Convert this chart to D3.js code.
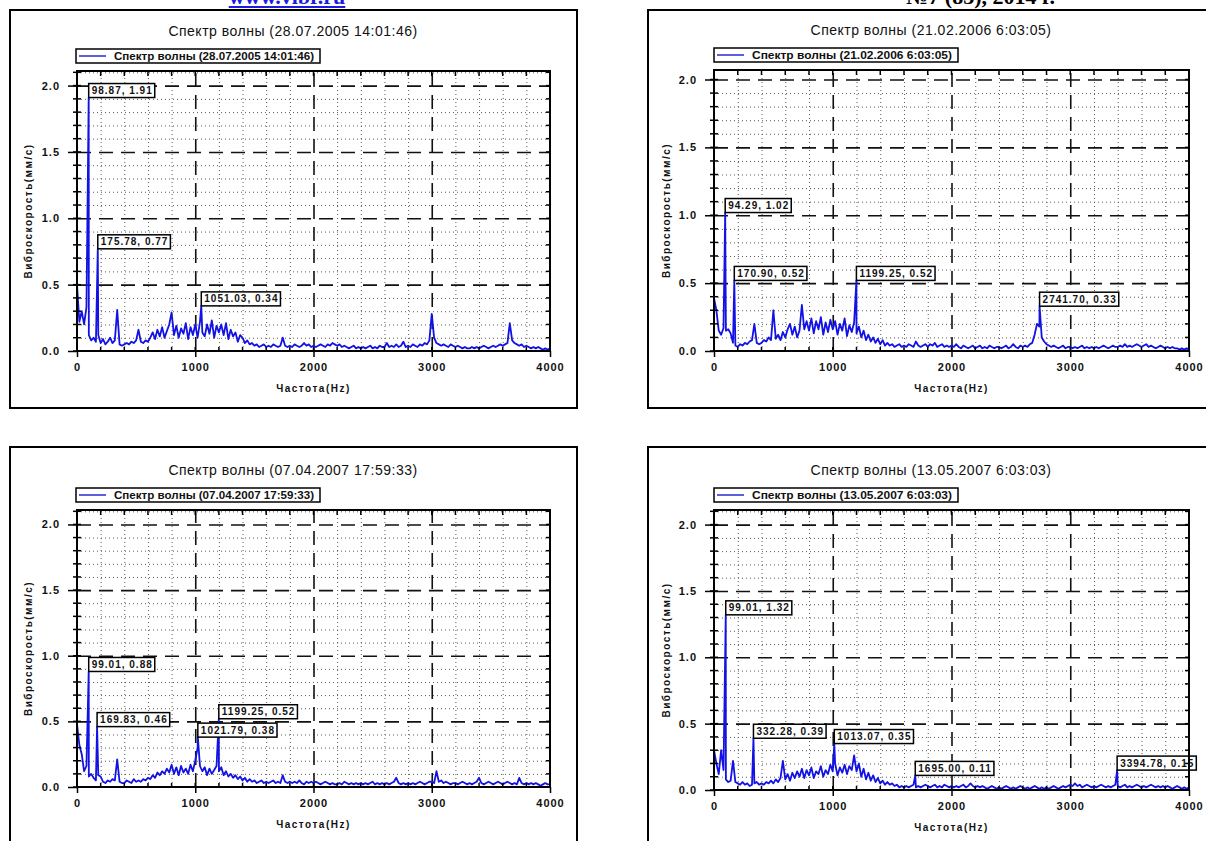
<!DOCTYPE html>
<html lang="ru">
<head>
<meta charset="utf-8">
<title>Спектр волны</title>
<script src="https://d3js.org/d3.v7.min.js"></script>
<style>
    body, html { margin: 0; padding: 0; background: #fff; overflow: hidden; }
    svg { display: block; }
    .chart text { font-family: "Liberation Sans", Arial, sans-serif; fill: #111; }
    .axis text { font-weight: bold; font-size: 11px; letter-spacing: 1px; }
    .axis line { stroke: #000; stroke-width: 1.5; }
    .axis .domain { display: none; }
    .grid .domain { display: none; }
    .grid-minor line { stroke: #5a5a5a; stroke-width: 1; stroke-dasharray: 1,3; }
    .grid-major line { stroke: #111; stroke-width: 1.6; stroke-dasharray: 14,8; }
    .peak text { font-weight: bold; font-size: 10px; letter-spacing: 1px; }
</style>
</head>
<body>
<svg id="page" width="1206" height="841"></svg>
<script>
// chart texts
var titles = [
    "Спектр волны (28.07.2005 14:01:46)",
    "Спектр волны (21.02.2006 6:03:05)",
    "Спектр волны (07.04.2007 17:59:33)",
    "Спектр волны (13.05.2007 6:03:03)"
];
var xLabel = "Частота(Hz)";
var yLabel = "Виброскорость(мм/с)";
var xTickLabels = ["0", "1000", "2000", "3000", "4000"];
var yTickLabels = ["0.0", "0.5", "1.0", "1.5", "2.0"];
var yMaxes = [2.11, 2.07, 2.11, 2.11];

// spectrum amplitudes, one value every 20 Hz from 0 to 4000 Hz
var freqStep = 20;
var spectrum1 = [
    0.50, 0.22, 0.30, 0.20, 0.33, 0.12, 0.08, 0.10, 0.07, 0.12,
    0.06, 0.09, 0.05, 0.07, 0.10, 0.06, 0.08, 0.31, 0.05, 0.04,
    0.05, 0.06, 0.05, 0.07, 0.06, 0.08, 0.16, 0.07, 0.06, 0.08,
    0.07, 0.10, 0.14, 0.09, 0.16, 0.11, 0.18, 0.10, 0.15, 0.20,
    0.29, 0.12, 0.19, 0.10, 0.17, 0.13, 0.21, 0.09, 0.18, 0.12,
    0.20, 0.10, 0.22, 0.14, 0.11, 0.20, 0.13, 0.23, 0.10, 0.19,
    0.14, 0.20, 0.12, 0.21, 0.09, 0.16, 0.11, 0.14, 0.07, 0.12,
    0.10, 0.06, 0.08, 0.05, 0.06, 0.04, 0.05, 0.03, 0.04, 0.05,
    0.03, 0.04, 0.03, 0.05, 0.04, 0.03, 0.04, 0.10, 0.04, 0.03,
    0.04, 0.03, 0.05, 0.04, 0.03, 0.04, 0.06, 0.04, 0.05, 0.03,
    0.04, 0.03, 0.04, 0.05, 0.04, 0.03, 0.05, 0.04, 0.06, 0.05,
    0.04, 0.05, 0.03, 0.04, 0.03, 0.02, 0.03, 0.04, 0.02, 0.03,
    0.02, 0.03, 0.02, 0.03, 0.04, 0.02, 0.03, 0.02, 0.04, 0.03,
    0.03, 0.06, 0.03, 0.04, 0.03, 0.05, 0.03, 0.04, 0.07, 0.03,
    0.04, 0.03, 0.05, 0.04, 0.03, 0.05, 0.04, 0.06, 0.05, 0.08,
    0.28, 0.10, 0.06, 0.05, 0.04, 0.05, 0.04, 0.03, 0.05, 0.04,
    0.03, 0.04, 0.03, 0.02, 0.03, 0.02, 0.02, 0.03, 0.02, 0.03,
    0.02, 0.03, 0.04, 0.03, 0.02, 0.03, 0.04, 0.03, 0.04, 0.05,
    0.04, 0.05, 0.06, 0.21, 0.08, 0.06, 0.05, 0.04, 0.05, 0.03,
    0.04, 0.03, 0.02, 0.03, 0.02, 0.03, 0.02, 0.01, 0.02, 0.01,
    0.02
];
var spectrum2 = [
    0.39, 0.30, 0.15, 0.12, 0.17, 0.15, 0.16, 0.13, 0.06, 0.04,
    0.03, 0.05, 0.04, 0.06, 0.05, 0.07, 0.08, 0.20, 0.06, 0.05,
    0.06, 0.08, 0.07, 0.10, 0.08, 0.30, 0.09, 0.12, 0.08, 0.14,
    0.10, 0.16, 0.20, 0.12, 0.18, 0.10, 0.15, 0.34, 0.16, 0.22,
    0.15, 0.24, 0.13, 0.22, 0.16, 0.25, 0.12, 0.21, 0.14, 0.23,
    0.16, 0.22, 0.12, 0.20, 0.15, 0.24, 0.11, 0.19, 0.14, 0.21,
    0.13, 0.18, 0.10, 0.15, 0.08, 0.12, 0.07, 0.10, 0.06, 0.09,
    0.05, 0.08, 0.04, 0.06, 0.04, 0.05, 0.03, 0.04, 0.05, 0.03,
    0.04, 0.03, 0.05, 0.04, 0.03, 0.07, 0.04, 0.03, 0.04, 0.05,
    0.03, 0.05, 0.04, 0.06, 0.03, 0.04, 0.05, 0.03, 0.04, 0.03,
    0.04, 0.03, 0.05, 0.03, 0.02, 0.04, 0.03, 0.02, 0.03, 0.04,
    0.02, 0.03, 0.04, 0.02, 0.03, 0.02, 0.04, 0.03, 0.02, 0.03,
    0.03, 0.02, 0.03, 0.04, 0.02, 0.03, 0.05, 0.03, 0.02, 0.04,
    0.03, 0.04, 0.03, 0.05, 0.06, 0.12, 0.20, 0.18, 0.10, 0.07,
    0.05, 0.04, 0.03, 0.04, 0.03, 0.02, 0.03, 0.04, 0.02, 0.03,
    0.03, 0.02, 0.03, 0.02, 0.03, 0.04, 0.02, 0.03, 0.02, 0.03,
    0.02, 0.03, 0.02, 0.03, 0.04, 0.03, 0.02, 0.03, 0.04, 0.03,
    0.03, 0.04, 0.03, 0.05, 0.03, 0.04, 0.03, 0.04, 0.05, 0.04,
    0.03, 0.04, 0.05, 0.03, 0.04, 0.03, 0.02, 0.03, 0.04, 0.03,
    0.02, 0.03, 0.02, 0.03, 0.02, 0.02, 0.01, 0.02, 0.01, 0.02,
    0.01
];
var spectrum3 = [
    0.48, 0.32, 0.25, 0.12, 0.16, 0.08, 0.10, 0.07, 0.05, 0.09,
    0.08, 0.04, 0.03, 0.05, 0.04, 0.06, 0.05, 0.21, 0.04, 0.03,
    0.03, 0.05, 0.04, 0.03, 0.06, 0.04, 0.05, 0.04, 0.06, 0.05,
    0.07, 0.06, 0.09, 0.07, 0.11, 0.09, 0.12, 0.10, 0.14, 0.11,
    0.17, 0.10, 0.15, 0.09, 0.16, 0.11, 0.14, 0.10, 0.17, 0.12,
    0.20, 0.30, 0.16, 0.12, 0.15, 0.09, 0.14, 0.10, 0.13, 0.16,
    0.12, 0.15, 0.09, 0.12, 0.08, 0.10, 0.07, 0.09, 0.06, 0.08,
    0.05, 0.07, 0.04, 0.06, 0.04, 0.05, 0.03, 0.04, 0.05, 0.03,
    0.04, 0.03, 0.04, 0.05, 0.03, 0.04, 0.03, 0.09, 0.04, 0.03,
    0.04, 0.03, 0.04, 0.03, 0.05, 0.03, 0.02, 0.04, 0.03, 0.04,
    0.03, 0.04, 0.03, 0.02, 0.03, 0.04, 0.03, 0.02, 0.03, 0.02,
    0.02, 0.03, 0.02, 0.04, 0.03, 0.02, 0.03, 0.02, 0.03, 0.02,
    0.03, 0.02, 0.03, 0.02, 0.03, 0.04, 0.02, 0.03, 0.02, 0.03,
    0.02, 0.03, 0.02, 0.03, 0.04, 0.07, 0.03, 0.02, 0.03, 0.02,
    0.03, 0.02, 0.03, 0.02, 0.03, 0.04, 0.03, 0.02, 0.03, 0.04,
    0.04, 0.03, 0.12, 0.04, 0.05, 0.03, 0.04, 0.03, 0.02, 0.03,
    0.03, 0.02, 0.03, 0.04, 0.03, 0.02, 0.03, 0.02, 0.03, 0.04,
    0.07, 0.03, 0.02, 0.03, 0.04, 0.03, 0.02, 0.03, 0.04, 0.03,
    0.02, 0.03, 0.04, 0.03, 0.02, 0.03, 0.02, 0.07, 0.03, 0.02,
    0.03, 0.02, 0.03, 0.02, 0.03, 0.02, 0.01, 0.02, 0.03, 0.02,
    0.02
];
var spectrum4 = [
    0.30, 0.20, 0.12, 0.30, 0.15, 0.08, 0.06, 0.07, 0.22, 0.06,
    0.05, 0.04, 0.06, 0.04, 0.05, 0.03, 0.04, 0.05, 0.06, 0.04,
    0.05, 0.04, 0.06, 0.05, 0.07, 0.05, 0.08, 0.06, 0.09, 0.22,
    0.08, 0.12, 0.07, 0.13, 0.09, 0.14, 0.10, 0.16, 0.09, 0.15,
    0.11, 0.17, 0.09, 0.14, 0.12, 0.18, 0.10, 0.15, 0.12, 0.19,
    0.14, 0.20, 0.11, 0.17, 0.13, 0.19, 0.12, 0.18, 0.15, 0.26,
    0.14, 0.20, 0.10, 0.16, 0.08, 0.13, 0.07, 0.11, 0.06, 0.09,
    0.05, 0.07, 0.04, 0.06, 0.04, 0.05, 0.03, 0.04, 0.02, 0.03,
    0.02, 0.03, 0.02, 0.03, 0.04, 0.02, 0.03, 0.02, 0.03, 0.04,
    0.03, 0.02, 0.03, 0.04, 0.02, 0.03, 0.02, 0.04, 0.03, 0.02,
    0.03, 0.02, 0.03, 0.02, 0.03, 0.04, 0.02, 0.03, 0.05, 0.03,
    0.02, 0.03, 0.02, 0.03, 0.02, 0.01, 0.02, 0.03, 0.02, 0.01,
    0.02, 0.01, 0.02, 0.03, 0.02, 0.01, 0.02, 0.01, 0.02, 0.03,
    0.02, 0.01, 0.02, 0.01, 0.02, 0.03, 0.02, 0.01, 0.02, 0.01,
    0.02, 0.01, 0.02, 0.03, 0.02, 0.01, 0.02, 0.03, 0.02, 0.03,
    0.04, 0.03, 0.05, 0.03, 0.04, 0.02, 0.03, 0.04, 0.03, 0.02,
    0.03, 0.02, 0.03, 0.04, 0.03, 0.02, 0.03, 0.02, 0.03, 0.04,
    0.03, 0.02, 0.03, 0.04, 0.02, 0.03, 0.02, 0.03, 0.04, 0.03,
    0.02, 0.03, 0.02, 0.03, 0.04, 0.03, 0.02, 0.03, 0.02, 0.03,
    0.02, 0.03, 0.02, 0.01, 0.02, 0.03, 0.02, 0.01, 0.02, 0.01,
    0.02
];

// labelled peaks: [frequency Hz, amplitude]
var peaks1 = [[98.87, 1.91], [175.78, 0.77], [1051.03, 0.34]];
var peaks2 = [[94.29, 1.02], [170.90, 0.52], [1199.25, 0.52], [2741.70, 0.33]];
var peaks3 = [[99.01, 0.88], [169.83, 0.46], [1021.79, 0.38], [1199.25, 0.52]];
var peaks4 = [[99.01, 1.32], [332.28, 0.39], [1013.07, 0.35], [1695.00, 0.11], [3394.78, 0.15]];

var svg = d3.select("#page");

// header of the scanned page (cut off at the top, as in the scan)
var site = svg.append("text")
    .attr("x", 287).attr("y", 4)
    .attr("text-anchor", "middle")
    .style("font-family", "'Liberation Serif', 'Times New Roman', serif")
    .style("font-weight", "bold").style("font-size", "22px")
    .style("fill", "#1c1ce0")
    .text("www.vibr.ru");
var sb = site.node().getBBox();
svg.append("line")
    .attr("x1", sb.x).attr("x2", sb.x + sb.width)
    .attr("y1", 7).attr("y2", 7)
    .attr("stroke", "#1c1ce0").attr("stroke-width", 2);
svg.append("text")
    .attr("x", 1055).attr("y", 4)
    .attr("text-anchor", "end")
    .style("font-family", "'Liberation Serif', 'Times New Roman', serif")
    .style("font-weight", "bold").style("font-size", "22px")
    .style("fill", "#000")
    .text("№7 (83), 2014 г.");

var panels = [
    {title: titles[0], values: spectrum1, peaks: peaks1, yMax: yMaxes[0], left: 10, top: 10, plotLeft: 67, plotTop: 61, plotBottom: 341, plotWidth: 473},
    {title: titles[1], values: spectrum2, peaks: peaks2, yMax: yMaxes[1], left: 648, top: 10, plotLeft: 66, plotTop: 60, plotBottom: 341, plotWidth: 475},
    {title: titles[2], values: spectrum3, peaks: peaks3, yMax: yMaxes[2], left: 10, top: 447, plotLeft: 67, plotTop: 63, plotBottom: 340, plotWidth: 473},
    {title: titles[3], values: spectrum4, peaks: peaks4, yMax: yMaxes[3], left: 648, top: 447, plotLeft: 66, plotTop: 63, plotBottom: 343, plotWidth: 475}
];

var xTickVals = xTickLabels.map(Number);
var yTickVals = yTickLabels.map(Number);
var fmt = d3.format(".2f");

panels.forEach(function(p, idx) {
    var g = svg.append("g")
        .attr("class", "chart")
        .attr("transform", "translate(" + p.left + "," + p.top + ")");

    g.append("rect")
        .attr("width", 567).attr("height", 398)
        .attr("fill", "none").attr("stroke", "#000").attr("stroke-width", 2);

    g.append("text")
        .attr("x", 283).attr("y", p.plotTop - 35)
        .attr("text-anchor", "middle")
        .style("font-size", "14px").style("letter-spacing", "0.5px")
        .text(p.title);

    // legend
    var lg = g.append("g").attr("transform", "translate(66," + (p.plotTop - 22) + ")");
    lg.append("rect")
        .attr("width", 244).attr("height", 14)
        .attr("fill", "#fff").attr("stroke", "#000").attr("stroke-width", 1.5);
    lg.append("line")
        .attr("x1", 3).attr("x2", 30).attr("y1", 7).attr("y2", 7)
        .attr("stroke", "#2a2ad0").attr("stroke-width", 1.5);
    lg.append("text")
        .attr("x", 38).attr("y", 10.5)
        .attr("textLength", 200).attr("lengthAdjust", "spacingAndGlyphs")
        .style("font-size", "10px").style("font-weight", "bold")
        .text(p.title);

    var w = p.plotWidth, h = p.plotBottom - p.plotTop;
    var x = d3.scaleLinear().domain([0, 4000]).range([0, w]);
    var y = d3.scaleLinear().domain([0, p.yMax]).range([h, 0]);

    var plot = g.append("g").attr("transform", "translate(" + p.plotLeft + "," + p.plotTop + ")");

    var minorX = d3.range(200, 4000, 200).filter(function(d) { return d % 1000 !== 0; });
    var minorY = d3.range(1, Math.floor(p.yMax * 10) + 1)
        .filter(function(k) { return k % 5 !== 0; })
        .map(function(k) { return k / 10; });

    // grid
    plot.append("g").attr("class", "grid grid-minor")
        .call(d3.axisLeft(y).tickValues(minorY).tickSize(-w).tickFormat(""));
    plot.append("g").attr("class", "grid grid-minor")
        .attr("transform", "translate(0," + h + ")")
        .call(d3.axisBottom(x).tickValues(minorX).tickSize(-h).tickFormat(""));
    plot.append("g").attr("class", "grid grid-major")
        .call(d3.axisLeft(y).tickValues(yTickVals.slice(1)).tickSize(-w).tickFormat(""));
    plot.append("g").attr("class", "grid grid-major")
        .attr("transform", "translate(0," + h + ")")
        .call(d3.axisBottom(x).tickValues(xTickVals.slice(1, -1)).tickSize(-h).tickFormat(""));

    // spectrum line
    var pts = p.values.map(function(v, i) { return [i * freqStep, v]; })
        .concat(p.peaks)
        .sort(function(a, b) { return a[0] - b[0]; });
    var clipId = "clip" + idx;
    plot.append("clipPath").attr("id", clipId)
        .append("rect").attr("width", w).attr("height", h);
    plot.append("path")
        .datum(pts)
        .attr("clip-path", "url(#" + clipId + ")")
        .attr("fill", "none")
        .attr("stroke", "#1212e4")
        .attr("stroke-width", 1.8)
        .attr("stroke-linejoin", "round")
        .attr("d", d3.line().x(function(d) { return x(d[0]); }).y(function(d) { return y(d[1]); }));

    // peak labels
    p.peaks.forEach(function(pk) {
        var box = plot.append("g")
            .attr("class", "peak")
            .attr("transform", "translate(" + x(pk[0]) + "," + (y(pk[1]) - 14) + ")");
        var rect = box.append("rect")
            .attr("height", 14)
            .attr("fill", "#fff").attr("stroke", "#000").attr("stroke-width", 1.5);
        var t = box.append("text")
            .attr("x", 3).attr("y", 10.5)
            .text(fmt(pk[0]) + ", " + fmt(pk[1]));
        rect.attr("width", t.node().getComputedTextLength() + 5);
    });

    // plot border
    plot.append("rect")
        .attr("width", w).attr("height", h)
        .attr("fill", "none").attr("stroke", "#000").attr("stroke-width", 2);

    // small ticks on all sides
    var tk = plot.append("g").attr("stroke", "#000").attr("stroke-width", 1.5);
    minorY.concat(yTickVals).forEach(function(v) {
        tk.append("line").attr("x1", -4).attr("x2", 4).attr("y1", y(v)).attr("y2", y(v));
        tk.append("line").attr("x1", w - 4).attr("x2", w).attr("y1", y(v)).attr("y2", y(v));
    });
    minorX.concat(xTickVals).forEach(function(v) {
        tk.append("line").attr("x1", x(v)).attr("x2", x(v)).attr("y1", h - 4).attr("y2", h);
        tk.append("line").attr("x1", x(v)).attr("x2", x(v)).attr("y1", 0).attr("y2", 5);
    });

    // axes with labels
    plot.append("g").attr("class", "axis")
        .call(d3.axisLeft(y).tickValues(yTickVals).tickSize(9).tickPadding(8)
            .tickFormat(function(d, i) { return yTickLabels[i]; }));
    plot.append("g").attr("class", "axis")
        .attr("transform", "translate(0," + h + ")")
        .call(d3.axisBottom(x).tickValues(xTickVals).tickSize(6).tickPadding(6)
            .tickFormat(function(d, i) { return xTickLabels[i]; }));

    plot.append("text")
        .attr("x", w / 2).attr("y", h + 41)
        .attr("text-anchor", "middle")
        .style("font-size", "10px").style("font-weight", "bold").style("letter-spacing", "1.5px")
        .text(xLabel);

    g.append("text")
        .attr("transform", "translate(18," + ((p.plotTop + p.plotBottom) / 2) + ") rotate(-90)")
        .attr("text-anchor", "middle").attr("dy", "0.35em")
        .style("font-size", "10px").style("font-weight", "bold").style("letter-spacing", "1.5px")
        .text(yLabel);
});
</script>
</body>
</html>
